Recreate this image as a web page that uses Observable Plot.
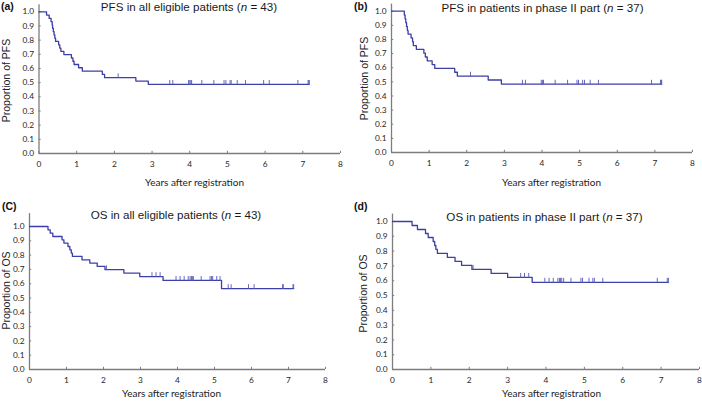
<!DOCTYPE html>
<html>
<head>
<meta charset="utf-8">
<script src="https://cdn.jsdelivr.net/npm/d3@7"></script>
<script src="https://cdn.jsdelivr.net/npm/@observablehq/plot@0.6"></script>
<style>
html,body{margin:0;padding:0;background:#fff;}
#root{position:relative;width:702px;height:401px;overflow:hidden;background:#fff;}
#root > svg{position:absolute;}
</style>
</head>
<body>
<div id="root"></div>
<script>
// ---------- data ----------
const xTicks = [0, 1, 2, 3, 4, 5, 6, 7, 8];
const yTicks = [0, 0.1, 0.2, 0.3, 0.4, 0.5, 0.6, 0.7, 0.8, 0.9, 1.0];

const panelLabels = ["(a)", "(b)", "(C)", "(d)"];
const titleMain = ["PFS in all eligible patients", "PFS in patients in phase II part", "OS in all eligible patients", "OS in patients in phase II part"];
const titleN = [43, 37, 43, 37];
const yTitles = ["Proportion of PFS", "Proportion of PFS", "Proportion of OS", "Proportion of OS"];
const xTitle = "Years after registration";

// (a) PFS, all eligible patients
const pfsAllTime = [0, 0.20, 0.27, 0.32, 0.35, 0.36, 0.38, 0.40, 0.42, 0.44, 0.52, 0.55, 0.58, 0.66, 0.86, 0.90, 0.93, 1.05, 1.15, 1.68, 1.74, 2.57, 2.90, 7.17];
const pfsAllSurv = [1.000, 0.977, 0.953, 0.930, 0.907, 0.884, 0.860, 0.837, 0.814, 0.791, 0.767, 0.744, 0.721, 0.698, 0.674, 0.651, 0.628, 0.605, 0.581, 0.558, 0.535, 0.511, 0.488, 0.488];
const pfsAllCensor = [2.10, 3.47, 3.55, 3.97, 4.00, 4.03, 4.05, 4.32, 4.64, 4.91, 4.96, 5.07, 5.10, 5.26, 5.48, 5.96, 6.11, 6.87, 7.14, 7.16, 7.17];

// (b) PFS, phase II part
const pfsP2Time = [0, 0.34, 0.36, 0.38, 0.40, 0.42, 0.44, 0.52, 0.56, 0.58, 0.66, 0.86, 0.90, 0.95, 1.08, 1.15, 1.68, 1.75, 2.57, 2.92, 7.18];
const pfsP2Surv = [1.000, 0.973, 0.946, 0.919, 0.892, 0.865, 0.838, 0.811, 0.784, 0.757, 0.730, 0.703, 0.676, 0.649, 0.622, 0.595, 0.568, 0.541, 0.513, 0.484, 0.484];
const pfsP2Censor = [2.10, 3.48, 3.56, 3.98, 4.01, 4.04, 4.35, 4.68, 4.93, 4.97, 5.08, 5.13, 5.28, 5.50, 6.91, 7.15, 7.17, 7.18];

// (C) OS, all eligible patients
const osAllTime = [0, 0.50, 0.56, 0.63, 0.88, 0.93, 1.04, 1.09, 1.13, 1.16, 1.42, 1.63, 1.83, 2.04, 2.55, 2.98, 3.61, 5.19, 7.14];
const osAllSurv = [1.000, 0.977, 0.953, 0.930, 0.907, 0.884, 0.860, 0.837, 0.814, 0.791, 0.767, 0.744, 0.721, 0.698, 0.674, 0.650, 0.623, 0.566, 0.566];
const osAllCensor = [2.08, 3.31, 3.42, 3.53, 3.96, 4.07, 4.18, 4.29, 4.34, 4.38, 4.40, 4.43, 4.64, 4.88, 4.92, 4.95, 5.06, 5.15, 5.37, 5.45, 5.92, 6.07, 6.84, 6.86, 7.12, 7.14];

// (d) OS, phase II part
const osP2Time = [0, 0.51, 0.65, 0.86, 0.93, 1.06, 1.10, 1.13, 1.17, 1.43, 1.63, 1.80, 2.07, 2.57, 3.00, 3.64, 7.19];
const osP2Surv = [1.000, 0.973, 0.946, 0.919, 0.892, 0.865, 0.838, 0.811, 0.784, 0.757, 0.730, 0.703, 0.676, 0.649, 0.622, 0.589, 0.589];
const osP2Censor = [2.10, 3.34, 3.44, 3.55, 3.97, 4.08, 4.19, 4.31, 4.35, 4.38, 4.41, 4.46, 4.65, 4.91, 4.95, 5.12, 5.22, 5.26, 5.48, 6.90, 7.16, 7.19];

const series = [
  {time: pfsAllTime, surv: pfsAllSurv, censor: pfsAllCensor},
  {time: pfsP2Time, surv: pfsP2Surv, censor: pfsP2Censor},
  {time: osAllTime, surv: osAllSurv, censor: osAllCensor},
  {time: osP2Time, surv: osP2Surv, censor: osP2Censor}
];

// ---------- layout (page pixels) ----------
const layout = [
  {left: 0,   top: 0,   w: 351, h: 200, x0: 38.5, x8: 340, y1: 11.3, y0: 153, ymax: 1.05,
   title: [189, 10.7], label: [1, 9.8], ytitle: [6, 80], xtitle: [194, 185]},
  {left: 351, top: 0,   w: 351, h: 200, x0: 391, x8: 692, y1: 10.7, y0: 152, ymax: 1.05,
   title: [542.5, 11.7], label: [354, 9.8], ytitle: [364, 78], xtitle: [551, 185]},
  {left: 0,   top: 200, w: 351, h: 201, x0: 29, x8: 325, y1: 226, y0: 369, ymax: 1.09,
   title: [176, 219.3], label: [2, 209.5], ytitle: [6, 290], xtitle: [171, 396]},
  {left: 351, top: 200, w: 351, h: 201, x0: 392, x8: 699, y1: 221, y0: 369, ymax: 1.05,
   title: [544.5, 220.7], label: [354, 210], ytitle: [363, 293], xtitle: [551, 396]}
];

const LINE = "#3c3fa8";
const CENS = "#5558b8";
const AXIS = "#7d7d7d";
const root = document.getElementById("root");

function levelAt(s, t) {
  let v = s.surv[0];
  for (let i = 0; i < s.time.length; i++) if (s.time[i] <= t) v = s.surv[i];
  return v;
}

series.forEach((s, k) => {
  const L = layout[k];
  const steps = s.time.map((t, i) => ({t, s: s.surv[i]}));
  const cens = s.censor.map(t => ({t, s: levelAt(s, t)}));
  const marginLeft = L.x0 - L.left;
  const marginRight = L.left + L.w - L.x8;
  const ppu = L.y0 - L.y1;             // pixels per unit of proportion
  const ppx = (L.x8 - L.x0) / 8;       // pixels per year
  const yTop = L.y0 - ppu * L.ymax;
  const marginTop = yTop - L.top;
  const marginBottom = L.top + L.h - L.y0;
  const frameCx = L.left + (marginLeft + (L.w - marginRight)) / 2;
  const frameCy = L.top + (marginTop + (L.h - marginBottom)) / 2;
  const tick = 2.2;

  const chart = Plot.plot({
    width: L.w, height: L.h,
    marginLeft, marginRight, marginTop, marginBottom,
    x: {domain: [0, 8]},
    y: {domain: [0, L.ymax]},
    style: {fontFamily: "Lato, 'Open Sans', sans-serif", fontSize: "8.3px", color: "#262626", background: "transparent", overflow: "visible"},
    marks: [
      Plot.axisX({ticks: xTicks, tickSize: 0, tickPadding: 7.5, tickFormat: d => String(d), label: null}),
      Plot.axisY({ticks: yTicks, tickSize: 0, tickPadding: 5, tickFormat: d3.format(".1f"), label: null}),
      // inward tick marks
      Plot.ruleX(xTicks, {x: d => d, y1: 0, y2: tick / ppu, stroke: AXIS, strokeWidth: 1}),
      Plot.ruleY(yTicks, {y: d => d, x1: 0, x2: tick / ppx, stroke: AXIS, strokeWidth: 1}),
      // axis lines
      Plot.ruleY([0], {stroke: AXIS, strokeWidth: 1.3}),
      Plot.ruleX([0], {y1: 0, y2: L.ymax, stroke: AXIS, strokeWidth: 1.3}),
      // survival curve and censor marks
      Plot.line(steps, {x: "t", y: "s", curve: "step-after", stroke: LINE, strokeWidth: 1.3}),
      Plot.ruleX(cens, {x: "t", y1: d => d.s - 0.006, y2: d => d.s + 0.027, stroke: CENS, strokeWidth: 0.9}),
      // axis titles
      Plot.text([xTitle], {text: d => d, frameAnchor: "bottom", lineAnchor: "bottom",
        dx: L.xtitle[0] - frameCx, dy: L.xtitle[1] - L.y0, fontSize: 10, fill: "#222"}),
      Plot.text([yTitles[k]], {text: d => d, frameAnchor: "left", rotate: -90, lineAnchor: "middle", textAnchor: "middle",
        dx: L.ytitle[0] - L.x0, dy: L.ytitle[1] - frameCy, fontSize: 10.5, fontFamily: "'Liberation Sans', Arial, sans-serif", fill: "#222"})
    ]
  });
  chart.style.left = L.left + "px";
  chart.style.top = L.top + "px";
  root.appendChild(chart);
});

// titles and panel labels
const overlay = d3.select(root).append("svg")
  .attr("width", 702).attr("height", 401)
  .style("left", "0px").style("top", "0px").style("pointer-events", "none");

layout.forEach((L, k) => {
  const t = overlay.append("text")
    .attr("x", L.title[0]).attr("y", L.title[1])
    .attr("text-anchor", "middle")
    .attr("font-family", "'Liberation Sans', Arial, sans-serif")
    .attr("font-size", 11.6).attr("fill", "#1a1a1a");
  t.append("tspan").text(titleMain[k] + " (");
  t.append("tspan").attr("font-style", "italic").text("n");
  t.append("tspan").text(" = " + titleN[k] + ")");

  overlay.append("text")
    .attr("x", L.label[0]).attr("y", L.label[1])
    .attr("font-family", "'Liberation Sans', Arial, sans-serif")
    .attr("font-weight", "bold").attr("font-size", 10.5).attr("fill", "#111")
    .text(panelLabels[k]);
});
</script>
</body>
</html>
